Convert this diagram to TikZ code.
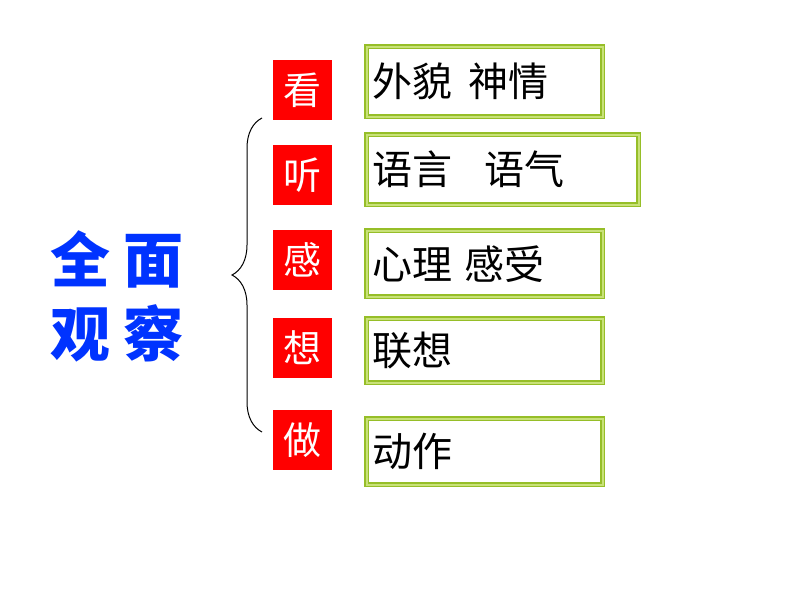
\documentclass[tikz,border=0pt]{standalone}
\usepackage{fontspec}
\newfontfamily\cjk{Noto Sans CJK SC}
\usetikzlibrary{decorations.pathreplacing}
\definecolor{gout}{RGB}{150,190,40}
\definecolor{gin}{RGB}{200,225,120}
\tikzset{
 red/.style={fill=red,minimum width=59pt,minimum height=60pt,inner sep=0pt,text=white,font=\cjk\fontsize{38}{38}\selectfont},
 gbox/.style={draw=gout,line width=1.5pt,double=gin,double distance=2pt,anchor=north west,inner sep=0pt,text width=#1,minimum height=68pt,align=left,font=\cjk\fontsize{40}{40}\selectfont},
}
\begin{document}
\begin{tikzpicture}[x=1pt,y=-1pt]
\useasboundingbox (0,0) rectangle (794,596);
\node[red] (k) at (302.5,90) {看};
\node[red] (t) at (302.5,175) {听};
\node[red] (g) at (302.5,260) {感};
\node[red] (x) at (302.5,348) {想};
\node[red] (z) at (302.5,440) {做};
\node[gbox=236pt,minimum height=70pt] (b1) at (366,46) {\hspace{6pt}外貌\hspace{0.4em}神情};
\node[gbox=272pt,minimum height=70pt] (b2) at (366,134) {\hspace{6pt}语言\hspace{0.8em}语气};
\node[gbox=236pt,minimum height=66pt] (b3) at (366,230) {\hspace{6pt}心理\hspace{0.3em}感受};
\node[gbox=236pt,minimum height=64pt] (b4) at (366,318) {\hspace{6pt}联想};
\node[gbox=236pt,minimum height=66pt] (b5) at (366,418) {\hspace{6pt}动作};
\coordinate (bt) at (262,118);
\coordinate (bb) at (262,432);
\draw[line width=1pt,decorate,decoration={brace,amplitude=30pt}] (bb) -- (bt);
\node[text=blue!80!cyan,font=\cjk\bfseries\fontsize{60}{60}\selectfont,align=center] (q) at (117,296) {全\hspace{14pt}面\\[14pt]观\hspace{14pt}察};
\end{tikzpicture}
\end{document}
